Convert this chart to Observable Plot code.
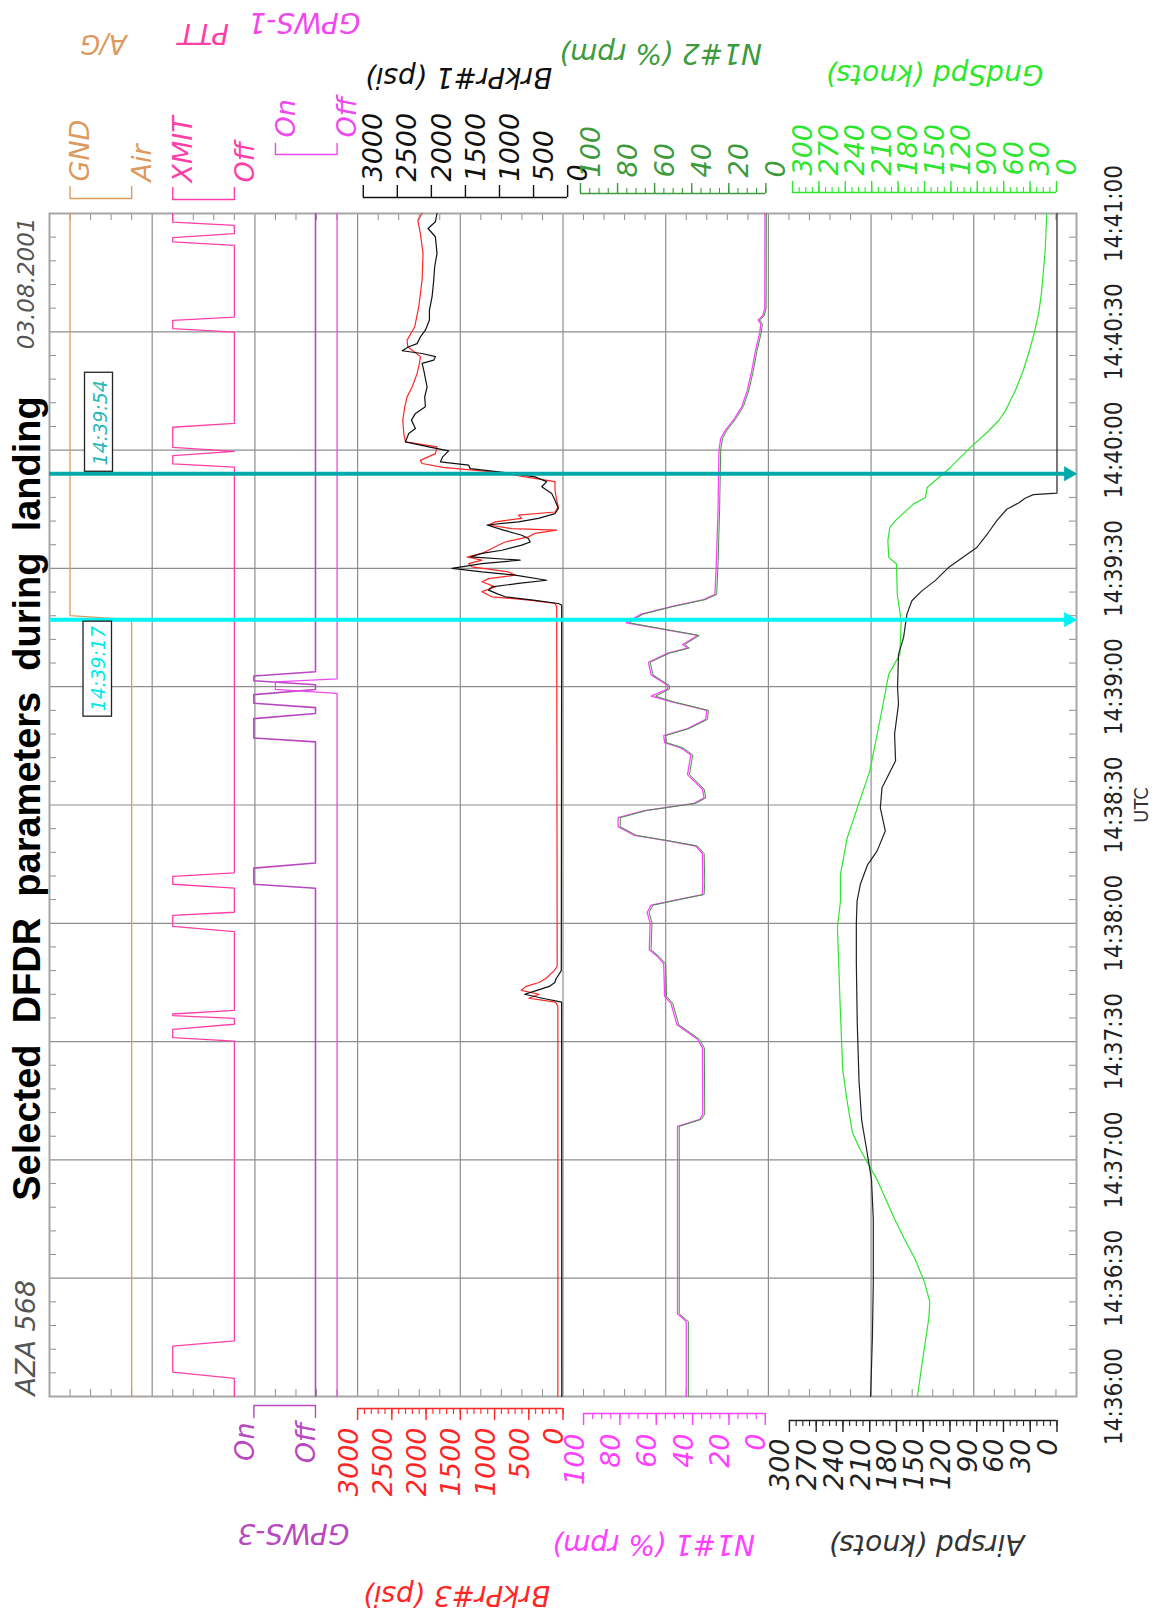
<!DOCTYPE html>
<html>
<head>
<meta charset="utf-8">
<script src="https://cdn.jsdelivr.net/npm/d3@7"></script>
<script src="https://cdn.jsdelivr.net/npm/@observablehq/plot@0.6"></script>
<style>
  html, body { margin: 0; padding: 0; background: #fff; }
  #chart svg { display: block; }
</style>
</head>
<body>
<div id="chart"></div>
<script>
// ---------------- DATA (time t = seconds after 14:36:00) ----------------
const timeLabels = ["14:36:00","14:36:30","14:37:00","14:37:30","14:38:00","14:38:30","14:39:00","14:39:30","14:40:00","14:40:30","14:41:00"];
const brkTicks = [0, 500, 1000, 1500, 2000, 2500, 3000];
const n1Ticks = [0, 20, 40, 60, 80, 100];
const spdTicks = [0, 30, 60, 90, 120, 150, 180, 210, 240, 270, 300];
const agLabels = ["GND", "Air"];
const pttLabels = ["XMIT", "Off"];
const gpwsLabels = ["On", "Off"];
const events = [{t: 197, label: "14:39:17"}, {t: 234, label: "14:39:54"}];

// A/G : 1 = Air, 0 = GND
const agState = [[0,1],[197,1],[198,0],[300,0]];
// PTT : 1 = XMIT, 0 = Off
const pttState = [[0,0],[4.6,0],[6.2,1],[12.8,1],[14.1,0],[90.1,0],[91.0,1],[93.1,1],[94.4,0],[95.9,0],[96.6,1],[97.0,1],[97.9,0],
  [117.9,0],[119.2,1],[122.0,1],[122.8,0],[128.9,0],[129.9,1],[131.9,1],[132.8,0],
  [235.7,0],[236.5,1],[238.6,1],[239.7,0],[240.7,1],[245.8,1],[246.8,0],[269.9,0],[270.8,1],[272.9,1],[273.7,0],
  [291.9,0],[292.8,1],[293.9,1],[294.9,0],[297.0,0],[297.8,1],[300,1]];
// GPWS-3 : 1 = On
const gpws3State = [[0,0],[128.9,0],[129.9,1],[134.0,1],[135.3,0],[166.0,0],[167.0,1],[171.9,1],[173.2,0],[174.7,0],[175.8,1],[178.0,1],[179.3,0],[180.5,0],[181.5,1],[182.7,1],[183.8,0],[300,0]];
// GPWS-1 : 1 = On
const gpws1State = [[0,0],[178.3,0],[179.3,1],[181.2,1],[182.0,0],[300,0]];

// Brake pressure (psi)
const brkPr3 = [[0,75],[99,75],[100,110],[101,500],[102,350],[103,610],[104,540],[105,350],[106,250],[107,190],[108,130],[109,85],[200.3,92],[201.1,117],[201.9,456],[202.8,1039],[204.1,1184],[205.3,990],[206.6,1184],[207.4,1087],[208.3,699],[209.1,796],[210.4,1330],[211.2,1379],[212.1,1184],[212.9,1403],[213.8,1184],[215.5,990],[216.7,845],[218.0,505],[218.9,408],[219.7,92],[220.1,748],[221.0,1087],[221.8,990],[222.7,602],[223.5,651],[224.3,117],[225.6,68],[227.3,92],[229.8,117],[232.0,117],[233.2,553],[234.2,869],[235.6,1757],[236.6,2058],[237.4,2083],[239.1,1864],[240.8,1840],[242.1,2301],[244.2,2325],[247.6,2340],[251.0,2311],[253.5,2277],[256.0,2204],[259.4,2131],[262.0,2097],[263.7,2083],[266.2,2267],[267.9,2277],[271.3,2165],[276.3,2107],[283.1,2058],[289.9,2044],[294.9,2083],[298.3,2121],[300,2058]];
const brkPr1 = [[0,18],[100,20],[101,300],[102,560],[103,380],[104,200],[105,120],[106,100],[107,60],[108,25],[200.7,19],[201.1,68],[201.9,408],[202.8,845],[203.6,966],[204.5,1087],[205.3,1039],[206.2,651],[207.0,237],[208.3,699],[209.1,1184],[210.0,1621],[211.2,1184],[212.1,626],[212.9,1354],[213.8,1184],[214.6,893],[215.9,602],[216.7,480],[217.6,505],[218.4,602],[219.7,869],[221.0,1111],[221.8,651],[222.7,359],[223.9,117],[225.2,68],[227.3,117],[229.0,165],[230.7,310],[232.0,237],[233.2,408],[234.1,747],[235.3,1354],[236.2,1379],[237.0,1791],[238.3,1757],[239.8,1670],[240.8,1961],[242.1,2301],[244.2,2253],[245.5,2155],[247.6,2214],[249.3,2155],[251.0,2010],[253.5,2020],[256.0,1985],[260.3,2034],[262.0,2058],[262.8,1888],[263.7,1864],[264.5,2058],[265.2,2349],[266.2,2253],[267.0,2131],[268.7,2083],[270.4,2010],[273.0,1951],[275.5,1951],[278.9,1912],[283.1,1888],[286.5,1874],[289.9,1840],[294.1,1864],[296.2,1971],[297.9,1864],[300,1840]];

// N1 (% rpm)
const n1Eng1 = [[0,43.5],[19,43.5],[21,48.3],[68.5,48.3],[70.3,36],[71.6,34.4],[88.4,34.6],[90.6,37.3],[94.3,48.6],[99.7,51.9],[101.5,55.4],[109.7,55.9],[111.5,59.2],[113.3,63.8],[120.1,63.4],[122.8,65],[124.6,62.8],[126.0,48.3],[127.3,34.6],[130.5,34.4],[137.7,34.6],[139.6,38.3],[140.9,53.7],[142.3,72],[144.5,81],[146.8,81],[148.6,66.5],[150.4,39.2],[151.8,33.7],[154.0,34.6],[157.7,42.8],[162.7,41],[164.5,46.4],[165.8,55.4],[167.6,55.9],[169.4,42.8],[171.7,32.8],[174.0,32.2],[176.2,51.9],[177.6,62.8],[179.4,53.7],[180.3,53.7],[183.0,62.8],[186.2,64.3],[188.5,53.7],[189.8,42.8],[190.7,45.5],[193.0,37.3],[194.8,59.2],[196.2,76.5],[198.4,68.3],[200.3,51.9],[202.1,33.9],[203.4,27.7],[212,26.9],[225,26],[240,25.5],[243,24.5],[245,22],[248,17],[251,13],[255,10],[260,7.5],[265,5.5],[270,3],[272,2.5],[273,4],[274,1.5],[276,0.3],[300,0.2]];
const n1Eng2 = [[0,43.0],[19,43.0],[21,48.0],[68.5,48.0],[70.3,35.8],[71.6,34.0],[88.4,34.2],[90.6,37.0],[94.3,48.3],[99.7,51.6],[101.5,55.0],[109.7,55.5],[111.5,58.9],[113.3,63.5],[120.1,63.0],[122.8,64.6],[124.6,62.4],[126.0,48.0],[127.3,34.3],[130.5,34.0],[137.7,34.3],[139.6,38.0],[140.9,53.4],[142.3,71.6],[144.5,80.5],[146.8,80.4],[148.6,66.0],[150.4,39.0],[151.8,33.4],[154.0,34.3],[157.7,42.4],[162.7,40.6],[164.5,46.0],[165.8,55.0],[167.6,55.5],[169.4,42.5],[171.7,32.5],[174.0,32.0],[176.2,51.5],[177.6,61.0],[179.4,53.4],[180.3,53.4],[183.0,62.4],[186.2,64.0],[188.5,53.4],[189.8,42.5],[190.7,45.0],[193.0,37.0],[194.8,58.8],[196.2,75.5],[198.4,68.0],[200.3,51.6],[202.1,33.6],[203.4,27.4],[212,26.6],[225,25.8],[240,25.2],[243,24.2],[245,21.8],[248,16.8],[251,12.8],[255,9.8],[260,7.3],[265,5.3],[270,2.8],[272,2.3],[273,3.8],[274,1.3],[276,0.2],[300,0.1]];

// Speeds (knots)
const airSpd = [[0,209],[15,207],[29,206],[45,206],[55,208],[62,213],[70,219],[80,222],[95,224],[110,225],[120,225],[125.6,224.2],[129.9,220.5],[134.9,212.3],[138.3,201.8],[143.4,192.5],[149.3,198.1],[154.4,196.2],[161.2,181],[168,182.1],[175.6,177.7],[179.8,178.8],[188.2,177.7],[192.5,172],[198.4,168.3],[201.8,162.7],[204.3,151.5],[206.9,136.6],[210.2,121.7],[213.2,103],[215.3,89.9],[219.1,76.9],[222.1,67.5],[225,56.3],[226.7,42.2],[227.8,35.8],[228.7,26.5],[229.1,0],[300,0]];
const gndSpd = [[0,158],[8,153],[14,149],[20,145],[24,144],[29,150],[35,161],[40,173],[45,184],[50,194],[55,204],[59,214],[63,224],[67,232],[75,238],[83,243],[100,246],[119,249],[125.6,245.5],[132.4,245.5],[141.7,237.8],[158.6,212.2],[171.3,200.8],[183.2,190.6],[188.2,178],[196.7,176.5],[203.5,181],[211.1,181.8],[212.8,190.6],[217,191.7],[220.4,189.4],[222.1,183],[226.3,162.8],[228,148.9],[230.5,147],[235.6,120.5],[240.7,97.7],[244.9,76.9],[247.5,65.6],[250,58],[255,47],[260,38],[265,31],[270,25],[275,20],[280,17],[285,15],[290,13],[295,12],[300,11]];

// ---------------- LAYOUT HELPERS ----------------
const LEFT = 49, COLW = 102.7, TOP = 213, BOTTOM = 1396;
const PXS = (BOTTOM - TOP) / 300;
const X = px => (px - LEFT) / COLW;          // pixel x -> column units
const Y = py => (BOTTOM - py) / PXS;          // pixel y -> seconds
const lin = (d0, d1, c0, c1) => v => c0 + (v - d0) * (c1 - c0) / (d1 - d0);

const agX = lin(0, 1, 0.2, 0.8);        // GND .. Air
const pttX = lin(1, 0, 1.2, 1.8);       // XMIT .. Off
const gpws3X = lin(1, 0, 1.99, 2.59);   // On .. Off
const gpws1X = lin(1, 0, 2.2, 2.8);     // On .. Off
const brkX = lin(0, 3000, 5.0, 3.0);
const brkTopX = lin(0, 3000, 5.045, 3.055);
const n1X = lin(0, 100, 6.97, 5.2);
const n1TopX = lin(0, 100, 6.975, 5.17);
const spdX = lin(0, 300, 9.81, 7.205);
const spdTopX = lin(0, 300, 9.805, 7.235);

const C = {
  ag: "#dc9a5e", ptt: "#ff3fa8", g1: "#f048f0", g3: "#b848c0",
  brk1: "#111111", brk3: "#ff2626", n1a: "#ff40ff", n1b: "#3d9a3d",
  air: "#222222", gnd: "#2ee62e", grid: "#8e8e8e", frame: "#a6a6a6"
};
const ITAL = {fontFamily: "'DejaVu Sans ExtraLight', 'DejaVu Sans', Verdana, sans-serif", fontStyle: "italic", fontWeight: 200, fontSize: 27};
const TIMEF = {fontFamily: "'Liberation Sans Narrow', 'DejaVu Sans Condensed', 'Liberation Sans', sans-serif", fontSize: 24};

function topLabels(items, xf, dyStart, color, size) {
  return Plot.text(items, {x: d => xf(d.v), text: d => d.s, frameAnchor: "top", dy: dyStart - TOP,
    rotate: -90, textAnchor: "start", fill: color, ...ITAL, fontSize: size || 27});
}
function bottomLabels(items, xf, yEnd, color) {
  return Plot.text(items, {x: d => xf(d.v), text: d => d.s, frameAnchor: "bottom", dy: yEnd - BOTTOM,
    rotate: -90, textAnchor: "end", fill: color, ...ITAL});
}
function bracket(xa, xb, yBar, yTick, color) {
  return Plot.line([[xa, Y(yTick)], [xa, Y(yBar)], [xb, Y(yBar)], [xb, Y(yTick)]], {stroke: color, strokeWidth: 1.4});
}
function scaleAxis(vals, minors, xf, yBar, majorLen, minorLen, color) {
  const lo = d3.min(vals), hi = d3.max(vals);
  return [
    Plot.ruleY([Y(yBar)], {x1: xf(lo), x2: xf(hi), stroke: color, strokeWidth: 1.4}),
    Plot.ruleX(vals, {x: xf, y1: Y(yBar), y2: Y(yBar + majorLen), stroke: color, strokeWidth: 1.4}),
    Plot.ruleX(minors, {x: xf, y1: Y(yBar), y2: Y(yBar + minorLen), stroke: color, strokeWidth: 1.1})
  ];
}
const channelName = (s, px, py, color, size) =>
  Plot.text([s], {x: X(px), y: Y(py), rotate: 180, fill: color, ...ITAL, fontSize: size || 28});

const tickObjs = (arr) => arr.map(v => ({v, s: String(v)}));
const labObjs = (labels, vals) => labels.map((s, i) => ({s, v: vals[i]}));

const minorCols = d3.range(0, 10.001, 0.2).filter(c => Math.abs(c - Math.round(c)) > 0.01);
const minorTimes = d3.range(6, 300, 6).filter(t => t % 30 !== 0);
const TL = 7 / COLW, TT = 7 / PXS;

const marks = [
  // grid
  Plot.ruleX(d3.range(1, 10), {stroke: C.grid, strokeWidth: 1.2}),
  Plot.ruleY(d3.range(30, 300, 30), {stroke: C.grid, strokeWidth: 1.2}),
  // edge minor ticks
  Plot.ruleX(minorCols, {x: d => d, y1: 300, y2: 300 - TT, stroke: C.grid}),
  Plot.ruleX(minorCols, {x: d => d, y1: 0, y2: TT, stroke: C.grid}),
  Plot.ruleY(minorTimes, {y: d => d, x1: 0, x2: TL, stroke: C.grid}),
  Plot.ruleY(minorTimes, {y: d => d, x1: 10, x2: 10 - TL, stroke: C.grid}),
  Plot.frame({stroke: C.frame, strokeWidth: 2}),

  // discrete channels
  Plot.line(agState, {x: d => agX(d[1]), y: d => d[0], stroke: C.ag, strokeWidth: 1.3}),
  Plot.line(pttState, {x: d => pttX(d[1]), y: d => d[0], stroke: C.ptt, strokeWidth: 1.3}),
  Plot.line(gpws3State, {x: d => gpws3X(d[1]), y: d => d[0], stroke: C.g3, strokeWidth: 1.6}),
  Plot.line(gpws1State, {x: d => gpws1X(d[1]), y: d => d[0], stroke: C.g1, strokeWidth: 1.3}),

  // brake pressure
  Plot.line(brkPr3, {x: d => brkX(d[1]), y: d => d[0], stroke: C.brk3, strokeWidth: 1.2}),
  Plot.line(brkPr1, {x: d => brkX(d[1]), y: d => d[0], stroke: C.brk1, strokeWidth: 1.2}),
  // N1
  Plot.line(n1Eng1, {x: d => n1X(d[1]), y: d => d[0], stroke: C.n1a, strokeWidth: 1.3}),
  Plot.line(n1Eng2, {x: d => n1X(d[1]), y: d => d[0], stroke: C.n1b, strokeWidth: 1, dx: 1.2}),
  // speeds
  Plot.line(gndSpd, {x: d => spdTopX(d[1]), y: d => d[0], stroke: C.gnd, strokeWidth: 1.2}),
  Plot.line(airSpd, {x: d => spdX(d[1]), y: d => d[0], stroke: C.air, strokeWidth: 1.2}),

  // event lines with arrows
  Plot.ruleY([events[1]], {y: "t", x1: 0, x2: 10 - 8 / COLW, stroke: "#00aaaa", strokeWidth: 4}),
  Plot.dot([events[1]], {x: 10, y: "t", symbol: "triangle", r: 5.6, rotate: 90, dx: -8, fill: "#00aaaa"}),
  Plot.ruleY([events[0]], {y: "t", x1: 0, x2: 10 - 8 / COLW, stroke: "#00f4f4", strokeWidth: 4}),
  Plot.dot([events[0]], {x: 10, y: "t", symbol: "triangle", r: 5.6, rotate: 90, dx: -8, fill: "#00f4f4"}),

  // event label boxes
  Plot.rect([events[1]], {x1: X(84.5), x2: X(112.5), y1: d => d.t + 2 / PXS, y2: d => d.t + 101 / PXS, fill: "white", stroke: "#222", strokeWidth: 1.3}),
  Plot.text([events[1]], {x: X(100), y: d => d.t + 51 / PXS, text: "label", rotate: -90, fill: "#2bb7b7", ...ITAL, fontSize: 19}),
  Plot.rect([events[0]], {x1: X(83), x2: X(111.5), y1: d => d.t - 2 / PXS, y2: d => d.t - 97 / PXS, fill: "white", stroke: "#222", strokeWidth: 1.3}),
  Plot.text([events[0]], {x: X(98), y: d => d.t - 49 / PXS, text: "label", rotate: -90, fill: "#00e8e8", ...ITAL, fontSize: 19}),

  // ---------- top header ----------
  bracket(agX(0), agX(1), 198, 186, C.ag),
  topLabels(labObjs(agLabels, [0, 1]), agX, 181, C.ag),
  bracket(pttX(1), pttX(0), 199, 187, C.ptt),
  topLabels(labObjs(pttLabels, [1, 0]), pttX, 182, C.ptt),
  bracket(gpws1X(1), gpws1X(0), 154, 143, C.g1),
  topLabels(labObjs(gpwsLabels, [1, 0]), gpws1X, 137, C.g1),
  ...scaleAxis(brkTicks, [], brkTopX, 197, -12, -12, C.brk1),
  topLabels(tickObjs(brkTicks), brkTopX, 181, C.brk1),
  ...scaleAxis(n1Ticks, d3.range(0, 101, 5), n1TopX, 193, -10, -5, C.n1b),
  topLabels(tickObjs(n1Ticks), n1TopX, 177, C.n1b),
  ...scaleAxis(spdTicks, d3.range(0, 300.1, 7.5), spdTopX, 192, -11, -5, C.gnd),
  topLabels(tickObjs(spdTicks), spdTopX, 175, C.gnd),

  channelName("A/G", 103, 43, C.ag, 26),
  channelName("PTT", 203, 32, C.ptt),
  channelName("GPWS-1", 304, 21, C.g1),
  channelName("BrkPr#1 (psi)", 458, 76, C.brk1),
  channelName("N1#2 (% rpm)", 660, 52, C.n1b),
  channelName("GndSpd (knots)", 934, 73, C.gnd),

  // ---------- bottom header ----------
  bracket(gpws3X(1), gpws3X(0), 1405, 1417, C.g3),
  bottomLabels(labObjs(gpwsLabels, [1, 0]), gpws3X, 1422, C.g3),
  ...scaleAxis(brkTicks, d3.range(0, 3001, 100), brkX, 1408, 12, 6, C.brk3),
  bottomLabels(tickObjs(brkTicks), brkX, 1427, C.brk3),
  ...scaleAxis(n1Ticks, d3.range(0, 101, 5), n1X, 1413, 12, 6, C.n1a),
  bottomLabels(tickObjs(n1Ticks), n1X, 1433, C.n1a),
  ...scaleAxis(spdTicks, d3.range(0, 300.1, 7.5), spdX, 1420, 12, 6, C.air),
  bottomLabels(tickObjs(spdTicks), spdX, 1438, C.air),

  channelName("GPWS-3", 293, 1532, C.g3),
  channelName("BrkPr#3 (psi)", 456, 1594, C.brk3),
  channelName("N1#1 (% rpm)", 653, 1543, C.n1a),
  channelName("Airspd (knots)", 926, 1543, "#333"),

  // ---------- time axis (right) ----------
  Plot.text(timeLabels, {x: X(1114), y: (d, i) => i * 30, text: d => d, rotate: -90, fill: "#222", ...TIMEF}),
  Plot.text(["UTC"], {x: X(1141), y: 150, rotate: -90, fill: "#333", ...TIMEF, fontSize: 20}),

  // ---------- left texts ----------
  Plot.text(["Selected\u00a0\u00a0DFDR\u00a0\u00a0parameters\u00a0\u00a0during\u00a0\u00a0landing"],
    {x: X(27), y: Y(798), rotate: -90, fill: "#000", fontFamily: "'Liberation Sans', Arial, sans-serif", fontWeight: "bold", fontSize: 38}),
  Plot.text(["AZA 568"], {x: X(26), y: Y(1395), rotate: -90, textAnchor: "start", fill: "#555", ...ITAL}),
  Plot.text(["03.08.2001"], {x: X(26), y: Y(217), rotate: -90, textAnchor: "end", fill: "#555", ...ITAL, fontSize: 23})
];

const chart = Plot.plot({
  width: 1157, height: 1610,
  marginTop: TOP, marginBottom: 1610 - BOTTOM, marginLeft: LEFT, marginRight: 1157 - (LEFT + 10 * COLW),
  x: {domain: [0, 10], axis: null},
  y: {domain: [0, 300], axis: null},
  style: {background: "#fff", overflow: "visible"},
  marks
});
document.getElementById("chart").appendChild(chart);
</script>
</body>
</html>
